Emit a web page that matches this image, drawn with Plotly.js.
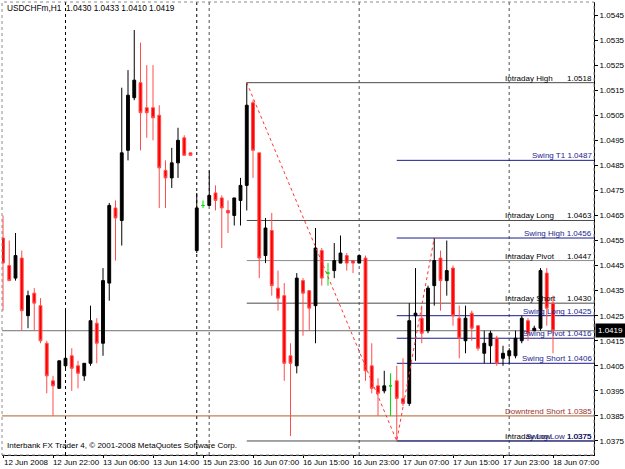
<!DOCTYPE html>
<html><head><meta charset="utf-8">
<script src="https://cdn.plot.ly/plotly-3.0.1.min.js"></script>
<style>html,body{margin:0;padding:0;background:#fff}#chart{width:625px;height:469px}</style>
</head><body><div id="chart"></div>
<script>
const headerText = 'USDCHFm,H1  1.0430 1.0433 1.0410 1.0419';
const footerText = 'Interbank FX Trader 4, \u00a9 2001-2008 MetaQuotes Software Corp.';

// hourly bars, 12 Jun 2008 14:00 .. 18 Jun 2008 07:00
const openP = [1.0456,1.0445,1.0440,1.0448,1.0425,1.0434,1.0429,1.0414,1.0399,1.0396,
  1.0405,1.0409,1.0405,1.0401,1.0406,1.0422,1.0414,1.0438,1.0468,1.0463,
  1.0491,1.0512,1.0518,1.0508,1.0508,1.0505,1.0483,1.0480,1.0486,1.0496,
  1.0490,1.0451,1.0469,1.0469,1.0474,1.0472,1.0467,1.0465,1.0471,1.0477,
  1.0510,1.0490,1.0449,1.0459,1.0436,1.0433,1.0409,1.0405,1.0439,1.0435,
  1.0429,1.0451,1.0442,1.0443,1.0446,1.0449,1.0447,1.0446,1.0448,1.0405,
  1.0397,1.0395,1.0397,1.0399,1.0392,1.0390,1.0425,1.0424,1.0419,1.0437,
  1.0448,1.0439,1.0444,1.0424,1.0415,1.0426,1.0421,1.0410,1.0413,1.0416,
  1.0408,1.0409,1.0409,1.0415,1.0423,1.0419,1.0420,1.0442,1.0430];
const highP = [1.0465,1.0455,1.0458,1.0451,1.0435,1.0436,1.0432,1.0415,1.0401,1.0407,
  1.0427,1.0412,1.0407,1.0406,1.0429,1.0424,1.0444,1.0470,1.0471,1.0516,
  1.0523,1.0539,1.0534,1.0525,1.0525,1.0509,1.0487,1.0492,1.0500,1.0497,
  1.0490,1.0474,1.0471,1.0483,1.0477,1.0473,1.0471,1.0472,1.0480,1.0518,
  1.0511,1.0490,1.0464,1.0466,1.0443,1.0438,1.0414,1.0442,1.0440,1.0435,
  1.0460,1.0452,1.0446,1.0454,1.0457,1.0450,1.0447,1.0449,1.0449,1.0414,
  1.0400,1.0403,1.0402,1.0405,1.0408,1.0430,1.0444,1.0429,1.0437,1.0456,
  1.0451,1.0455,1.0445,1.0429,1.0429,1.0427,1.0421,1.0419,1.0419,1.0417,
  1.0413,1.0412,1.0419,1.0425,1.0424,1.0421,1.0444,1.0444,1.0433];
const lowP = [1.0427,1.0439,1.0439,1.0419,1.0420,1.0419,1.0414,1.0394,1.0385,1.0396,
  1.0404,1.0395,1.0396,1.0399,1.0405,1.0406,1.0409,1.0431,1.0447,1.0453,
  1.0487,1.0511,1.0491,1.0496,1.0495,1.0468,1.0468,1.0476,1.0480,1.0489,
  1.0489,1.0450,1.0468,1.0469,1.0467,1.0452,1.0458,1.0461,1.0461,1.0467,
  1.0480,1.0440,1.0446,1.0433,1.0427,1.0399,1.0377,1.0402,1.0417,1.0419,
  1.0414,1.0437,1.0437,1.0440,1.0446,1.0443,1.0442,1.0446,1.0399,1.0394,
  1.0385,1.0394,1.0385,1.0375,1.0389,1.0389,1.0407,1.0414,1.0418,1.0429,
  1.0427,1.0433,1.0421,1.0408,1.0410,1.0415,1.0411,1.0406,1.0406,1.0405,
  1.0405,1.0406,1.0408,1.0414,1.0415,1.0419,1.0419,1.0421,1.0410];
const closeP = [1.0446,1.0439,1.0449,1.0427,1.0433,1.0430,1.0415,1.0401,1.0397,1.0407,
  1.0408,1.0404,1.0402,1.0406,1.0423,1.0414,1.0439,1.0469,1.0464,1.0490,
  1.0513,1.0519,1.0506,1.0506,1.0504,1.0484,1.0480,1.0486,1.0495,1.0489,
  1.0489,1.0468,1.0469,1.0473,1.0471,1.0468,1.0466,1.0472,1.0477,1.0509,
  1.0491,1.0448,1.0460,1.0437,1.0432,1.0406,1.0406,1.0440,1.0434,1.0428,
  1.0452,1.0440,1.0442,1.0447,1.0450,1.0446,1.0446,1.0449,1.0403,1.0396,
  1.0394,1.0397,1.0397,1.0392,1.0390,1.0423,1.0426,1.0418,1.0436,1.0447,
  1.0439,1.0443,1.0425,1.0416,1.0424,1.0420,1.0412,1.0414,1.0418,1.0406,
  1.0410,1.0411,1.0416,1.0424,1.0418,1.0420,1.0443,1.0428,1.0419];

const tickIdx = [0,8,16,24,32,40,48,56,64,72,80,88];
const tickLabels = ['12 Jun 2008','12 Jun 22:00','13 Jun 06:00','13 Jun 14:00','15 Jun 23:00',
  '16 Jun 07:00','16 Jun 15:00','16 Jun 23:00','17 Jun 07:00','17 Jun 15:00','17 Jun 23:00','18 Jun 07:00'];
const priceTicks = [1.0375,1.0385,1.0395,1.0405,1.0415,1.0425,1.0435,1.0445,1.0455,
  1.0465,1.0475,1.0485,1.0495,1.0505,1.0515,1.0525,1.0535,1.0545];

const separatorBlackIdx = [10,31];
const separatorGrayIdx = [33,57,81];

const intradayNames = ['Intraday High','Intraday Long','Intraday Pivot','Intraday Short','Intraday Low'];
const intradayLevels = [1.0518,1.0463,1.0447,1.0430,1.0375];
const intradayStart = 39;
const swingNames = ['Swing T1','Swing High','Swing Long','Swing Pivot','Swing Short','Swing Low'];
const swingLevels = [1.0487,1.0456,1.0425,1.0416,1.0406,1.0375];
const swingStart = 63;
const downtrendName = 'Downtrend Short';
const downtrendLevel = 1.0385;
const currentPrice = 1.0419;
const zigzagIdx = [39,63,69];
const zigzagPrice = [1.0518,1.0375,1.0456];

const X_MIN = -0.16, X_MAX = 94.56;
const FONT = 'Liberation Sans, Arial, sans-serif';

const idx = openP.map((_, i) => i);
function subset(cond) {
  const s = {x:[],open:[],high:[],low:[],close:[]};
  idx.forEach(i => { if (cond(i)) { s.x.push(i); s.open.push(openP[i]); s.high.push(highP[i]); s.low.push(lowP[i]); s.close.push(closeP[i]); } });
  return s;
}
const bull = subset(i => closeP[i] > openP[i]);
const bear = subset(i => closeP[i] < openP[i]);
const doji = subset(i => closeP[i] === openP[i]);

function candle(s, incLine, incFill, decLine, decFill) {
  return Object.assign({type:'candlestick', hoverinfo:'skip', showlegend:false, whiskerwidth:0,
    increasing:{line:{color:incLine, width:1}, fillcolor:incFill},
    decreasing:{line:{color:decLine, width:1}, fillcolor:decFill}}, s);
}

const traces = [
  {type:'scatter', mode:'lines', x:zigzagIdx, y:zigzagPrice, line:{color:'#ff3333', width:1, dash:'dot'}, hoverinfo:'skip', showlegend:false},
  candle(bull, '#000000', '#000000', '#000000', '#000000'),
  candle(bear, '#ff4d4d', '#ff0000', '#ff4d4d', '#ff0000'),
  candle(doji, '#00e000', '#00e000', '#00e000', '#00e000')
];

const shapes = [];
separatorBlackIdx.forEach(i => shapes.push({type:'line', xref:'x', yref:'paper', x0:i, x1:i, y0:0, y1:1, line:{color:'#000000', width:1, dash:'dot'}, layer:'below'}));
separatorGrayIdx.forEach(i => shapes.push({type:'line', xref:'x', yref:'paper', x0:i, x1:i, y0:0, y1:1, line:{color:'#8a8a8a', width:1.5, dash:'dot'}, layer:'below'}));
shapes.push({type:'line', xref:'x', yref:'y', x0:X_MIN, x1:X_MAX, y0:currentPrice, y1:currentPrice, line:{color:'#707070', width:1}, layer:'below'});
shapes.push({type:'line', xref:'x', yref:'y', x0:X_MIN, x1:X_MAX, y0:downtrendLevel, y1:downtrendLevel, line:{color:'#b0602a', width:1}, layer:'below'});
intradayLevels.forEach((v, k) => shapes.push({type:'line', xref:'x', yref:'y', x0:intradayStart, x1:X_MAX, y0:v, y1:v,
  line:{color: k === 2 ? '#8c8c8c' : '#4a4a4a', width:1}, layer:'below'}));
swingLevels.forEach(v => shapes.push({type:'line', xref:'x', yref:'y', x0:swingStart, x1:X_MAX, y0:v, y1:v, line:{color:'#1c1c8c', width:1}, layer:'below'}));
shapes.push({type:'rect', xref:'paper', yref:'paper', x0:0, x1:1, y0:0, y1:1, line:{color:'#8c8c8c', width:1, dash:'dot'}, layer:'above'});

const annotations = [];
const lblFont = (c) => ({family:FONT, size:8, color:c});
intradayLevels.forEach((v, k) => {
  annotations.push({xref:'x', yref:'y', x:80.0, y:v, xanchor:'left', yanchor:'bottom', yshift:-2, text:intradayNames[k], showarrow:false, font:lblFont('#000000')});
  annotations.push({xref:'paper', yref:'y', x:1, y:v, xanchor:'right', yanchor:'bottom', yshift:-2, text:v.toFixed(4), showarrow:false, font:lblFont('#000000')});
});
swingLevels.forEach((v, k) => {
  annotations.push({xref:'paper', yref:'y', x:1, y:v, xanchor:'right', yanchor:'bottom', yshift:-2, text:swingNames[k] + ' ' + v.toFixed(4), showarrow:false, font:lblFont('#1c1c8c')});
});
annotations.push({xref:'paper', yref:'y', x:1, y:downtrendLevel, xanchor:'right', yanchor:'bottom', yshift:-2, text:downtrendName + ' ' + downtrendLevel.toFixed(4), showarrow:false, font:lblFont('#993333')});
annotations.push({xref:'paper', yref:'y', x:1, y:currentPrice, xanchor:'left', yanchor:'middle', xshift:1, text:currentPrice.toFixed(4), showarrow:false,
  font:{family:FONT, size:8, color:'#ffffff'}, bgcolor:'#000000', borderpad:2});
annotations.push({xref:'paper', yref:'paper', x:0, y:0.987, xanchor:'left', yanchor:'middle', xshift:3, text:headerText, showarrow:false, font:{family:FONT, size:8.3, color:'#000000'}});
annotations.push({xref:'paper', yref:'paper', x:0, y:0.02, xanchor:'left', yanchor:'middle', xshift:3, text:footerText, showarrow:false, font:lblFont('#000000')});

const layout = {
  width:625, height:469,
  margin:{l:2, r:31, t:2, b:14, pad:0},
  paper_bgcolor:'#ffffff', plot_bgcolor:'#ffffff',
  showlegend:false, boxgap:0.35,
  font:{family:FONT, size:8, color:'#000000'},
  xaxis:{range:[X_MIN, X_MAX], rangeslider:{visible:false}, tickmode:'array', tickvals:tickIdx, ticktext:tickLabels,
    ticks:'outside', ticklen:2, tickcolor:'#000000', showgrid:false, zeroline:false, showline:true, linecolor:'#000000',
    ticklabelshift:23, ticklabelstandoff:-3, tickfont:{family:FONT, size:8, color:'#000000'}, fixedrange:true},
  yaxis:{range:[1.03694, 1.05502], side:'right', tickmode:'array', tickvals:priceTicks, tickformat:'.4f',
    ticks:'outside', ticklen:3, tickcolor:'#000000', showgrid:false, zeroline:false, showline:true, linecolor:'#000000',
    tickfont:{family:FONT, size:8, color:'#000000'}, fixedrange:true},
  shapes:shapes, annotations:annotations
};
Plotly.newPlot('chart', traces, layout, {displayModeBar:false, staticPlot:true});
</script></body></html>
